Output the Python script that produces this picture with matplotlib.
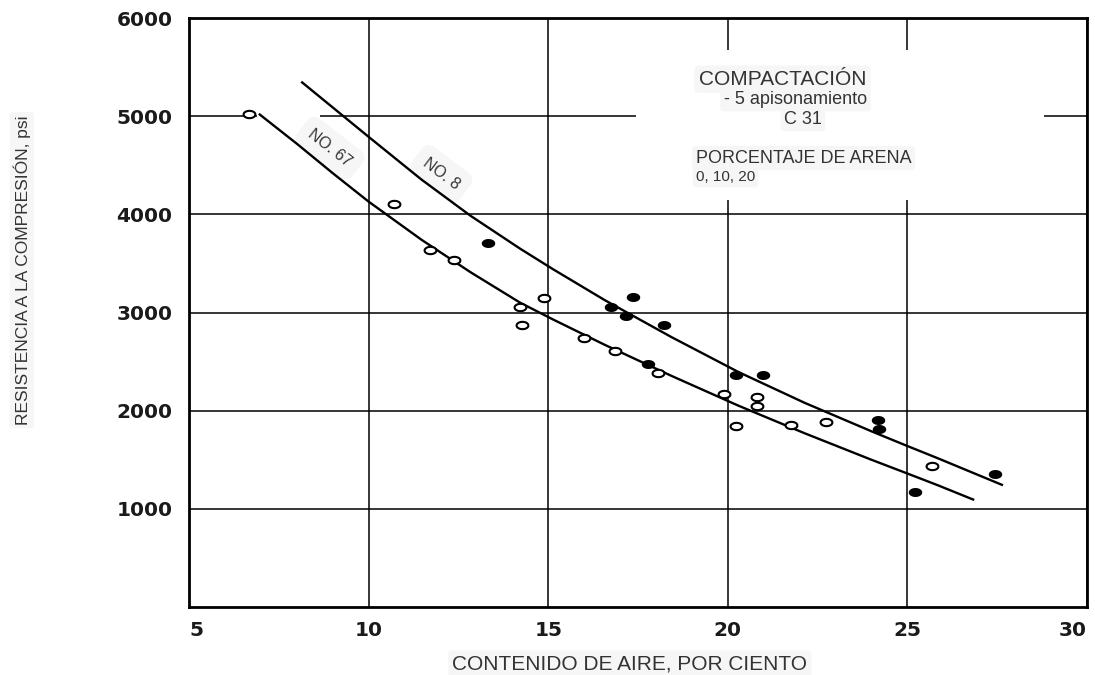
import numpy as np
import matplotlib
matplotlib.use("Agg")
import matplotlib.pyplot as plt
from matplotlib.path import Path
from matplotlib.patches import Rectangle

# ============== DATOS ==============
# curva NO. 67 (inferior)
no67_x = [6.97, 8.0, 9.0, 10.0, 11.47, 12.84, 14.22, 15.13, 16.58, 18.43, 20.29, 22.14, 24.0, 25.0, 25.85, 26.83]
no67_y = [5017, 4720, 4420, 4130, 3742, 3410, 3100, 2930, 2670, 2355, 2052, 1770, 1500, 1360, 1240, 1095]
# curva NO. 8 (superior)
no8_x = [8.15, 10.0, 11.47, 12.84, 14.22, 15.14, 16.58, 18.43, 20.29, 22.14, 24.0, 25.0, 25.85, 27.63]
no8_y = [5344, 4790, 4355, 3985, 3650, 3440, 3125, 2750, 2395, 2080, 1790, 1640, 1515, 1245]

# puntos abiertos / llenos
abiertos_x = [6.68, 10.72, 11.71, 12.38, 14.88, 14.22, 14.27, 16.0, 16.86, 18.06, 19.89, 20.82, 20.82, 20.24, 21.77, 22.74, 25.69]
abiertos_y = [5025, 4104, 3634, 3540, 3148, 3055, 2878, 2740, 2610, 2386, 2166, 2137, 2046, 1842, 1853, 1885, 1435]
llenos_x = [13.33, 16.76, 17.36, 17.16, 18.21, 17.79, 20.23, 20.99, 24.19, 24.21, 25.22, 27.44]
llenos_y = [3705, 3058, 3160, 2968, 2875, 2477, 2360, 2360, 1908, 1818, 1167, 1358]

x_ticks = [5, 10, 15, 20, 25, 30]
y_ticks = [1000, 2000, 3000, 4000, 5000, 6000]
# ========================================================

TXT = "#333333"
BOX = "#f5f6f5"
SANS = ["Liberation Sans", "DejaVu Sans"]

# marcador eliptico (los circulos del original son achatados)
t = np.linspace(0, 2 * np.pi, 60)
elipse = Path(np.column_stack([np.cos(t), 0.62 * np.sin(t)]))

fig = plt.figure(figsize=(10.95, 6.75), dpi=100)
ax = fig.add_axes([0.1726, 0.1007, 0.8201, 0.8726])

ax.set_xlim(5, 30)
ax.set_ylim(0, 6000)
ax.set_xticks(x_ticks)
ax.set_yticks(y_ticks)
ax.set_axisbelow(True)
ax.grid(True, color="black", lw=1.1)
for s in ax.spines.values():
    s.set_linewidth(2.0)
    s.set_color("black")

ax.tick_params(length=0)
ax.tick_params(axis="y", pad=12)
ax.tick_params(axis="x", pad=10)
ax.set_xticklabels([str(v) for v in x_ticks])
ax.set_yticklabels([str(v) for v in y_ticks])
for lab in ax.get_xticklabels() + ax.get_yticklabels():
    lab.set_fontfamily("DejaVu Sans")
    lab.set_fontsize(14.5)
    lab.set_fontweight("bold")
    lab.set_color("#1a1a1a")
xl = ax.get_xticklabels()
xl[0].set_horizontalalignment("left")
xl[-1].set_horizontalalignment("right")

# zonas "borradas" de la cuadricula
ax.add_patch(Rectangle((17.44, 4145), 11.36, 1527, fc="white", ec="none", zorder=1))
ax.add_patch(Rectangle((6.9, 4930), 1.74, 140, fc="white", ec="none", zorder=1))

# curvas
ax.plot(no67_x, no67_y, color="black", lw=1.7, zorder=3, solid_joinstyle="round")
ax.plot(no8_x, no8_y, color="black", lw=1.7, zorder=3, solid_joinstyle="round")

# puntos
ax.plot(abiertos_x, abiertos_y, ls="none", marker=elipse, ms=8.5,
        mfc="white", mec="black", mew=1.5, zorder=4)
ax.plot(llenos_x, llenos_y, ls="none", marker=elipse, ms=8.5,
        mfc="black", mec="black", mew=1.2, zorder=4)

# etiquetas de curvas
ax.text(8.92, 4674, "NO. 67", rotation=-38, rotation_mode="anchor",
        ha="center", va="center", fontsize=11.5, color=TXT, family=SANS, zorder=2,
        bbox=dict(boxstyle="round,pad=0.6", fc=BOX, ec="none"))
ax.text(12.02, 4416, "NO. 8", rotation=-37, rotation_mode="anchor",
        ha="center", va="center", fontsize=11.5, color=TXT, family=SANS, zorder=2,
        bbox=dict(boxstyle="round,pad=0.6", fc=BOX, ec="none"))

# leyenda de texto
ax.text(19.19, 5377, "COMPACTACIÓN", ha="left", va="center", fontsize=15,
        color=TXT, family=SANS, zorder=2,
        bbox=dict(boxstyle="round,pad=0.2", fc=BOX, ec="none"))
ax.text(19.89, 5173, "- 5 apisonamiento", ha="left", va="center", fontsize=13,
        color=TXT, family=SANS, zorder=2,
        bbox=dict(boxstyle="round,pad=0.2", fc=BOX, ec="none"))
ax.text(21.56, 4969, "C 31", ha="left", va="center", fontsize=13,
        color=TXT, family=SANS, zorder=2,
        bbox=dict(boxstyle="round,pad=0.2", fc=BOX, ec="none"))
ax.text(19.11, 4572, "PORCENTAJE DE ARENA", ha="left", va="center", fontsize=13,
        color=TXT, family=SANS, zorder=2,
        bbox=dict(boxstyle="round,pad=0.2", fc=BOX, ec="none"))
ax.text(19.11, 4379, "0, 10, 20", ha="left", va="center", fontsize=11,
        color=TXT, family=SANS, zorder=2,
        bbox=dict(boxstyle="round,pad=0.2", fc=BOX, ec="none"))

# titulos de ejes
ax.set_xlabel("CONTENIDO DE AIRE, POR CIENTO", fontsize=15, color=TXT, family=SANS,
              va="center", bbox=dict(boxstyle="round,pad=0.2", fc=BOX, ec="none"))
ax.xaxis.set_label_coords(0.491, -0.097)
ax.set_ylabel("RESISTENCIA A LA COMPRESIÓN, psi", fontsize=12.5, color=TXT, family=SANS,
              va="center", bbox=dict(boxstyle="round,pad=0.2", fc=BOX, ec="none"))
ax.yaxis.set_label_coords(-0.186, 0.572)

fig.savefig("out.png", dpi=100)
plt.close(fig)
